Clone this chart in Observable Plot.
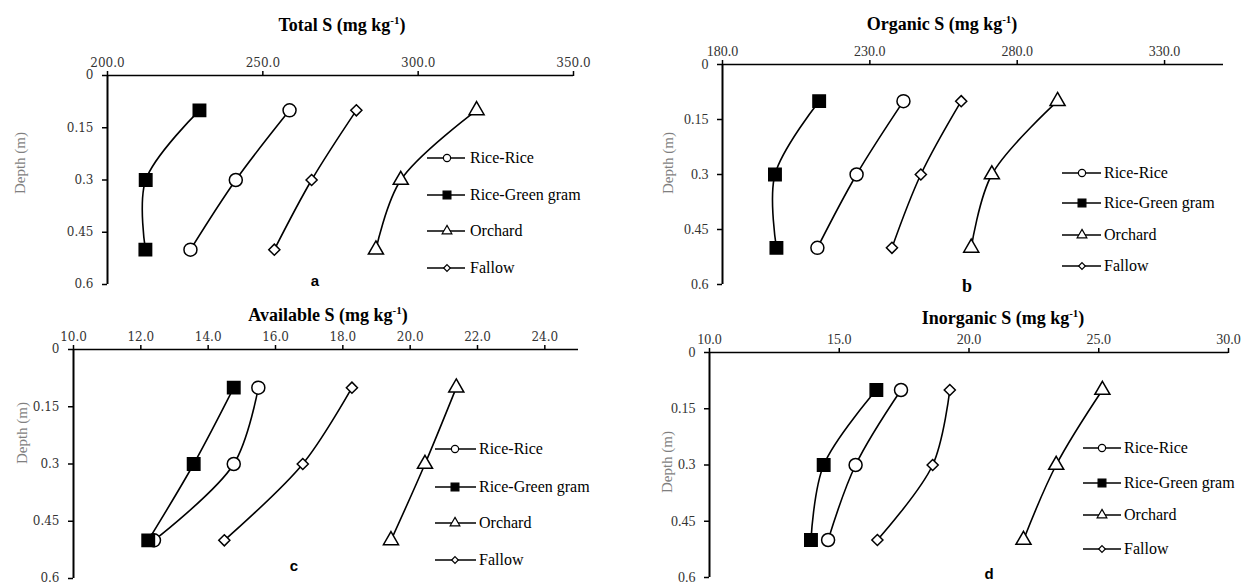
<!DOCTYPE html>
<html><head><meta charset="utf-8">
<script src="https://cdn.jsdelivr.net/npm/d3@7"></script>
<script src="https://cdn.jsdelivr.net/npm/@observablehq/plot@0.6"></script>
<style>
body{margin:0;background:#fff;}
#root{position:relative;width:1243px;height:586px;overflow:hidden;background:#fff;}
.wrap{position:absolute;}
.wrap svg{display:block;overflow:visible;}
.title{position:absolute;font-family:"Liberation Serif",serif;font-weight:bold;font-size:18px;transform:translate(-50%,-50%);white-space:nowrap;color:#000;}
.title sup{font-size:11px;}
.ylab{position:absolute;font-family:"Liberation Serif",serif;font-size:15px;color:#7f7f7f;transform:translate(-50%,-50%) rotate(-90deg);white-space:nowrap;}
.letter{position:absolute;font-family:"Liberation Sans",Arial,sans-serif;font-weight:bold;font-size:15px;transform:translate(-50%,-50%);}
.letter.serif{font-family:"Liberation Serif",serif;font-size:18px;}
.leg{position:absolute;font-family:"Liberation Serif",serif;font-size:16px;white-space:nowrap;transform:translateY(-50%);}
</style>
</head><body>
<div id="root"></div>
<script>
// ---- data ----
const seriesNames = ["Rice-Rice", "Rice-Green gram", "Orchard", "Fallow"];
const depth = [0.1, 0.3, 0.5];
const depthTicks = [0, 0.15, 0.3, 0.45, 0.6];

// values per series (order of seriesNames), at depths 0.1, 0.3, 0.5 m
const totalS = [
  [258.6, 241.3, 226.7],
  [229.6, 212.3, 212.2],
  [318.8, 294.4, 286.4],
  [280.1, 265.7, 253.7]
];
const organicS = [
  [241.4, 225.5, 212.2],
  [212.8, 197.8, 198.3],
  [293.7, 271.4, 264.4],
  [261.0, 247.3, 237.5]
];
const availableS = [
  [15.49, 14.76, 12.39],
  [14.76, 13.57, 12.22],
  [21.37, 20.44, 19.43],
  [18.27, 16.81, 14.48]
];
const inorganicS = [
  [17.38, 15.63, 14.57],
  [16.43, 14.40, 13.91],
  [25.14, 23.36, 22.10],
  [19.26, 18.60, 16.47]
];
const totalTicks = [200, 250, 300, 350];
const organicTicks = [180, 230, 280, 330];
const availableTicks = [10, 12, 14, 16, 18, 20, 22, 24];
const inorganicTicks = [10, 15, 20, 25, 30];

// ---- styles ----
const symStyle = [
  {symbol: "circle", fill: "white", r: 6.5, lr: 3.6},
  {symbol: "square", fill: "black", r: 7.0, lr: 4.4},
  {symbol: "triangle", fill: "white", r: 5.6, lr: 3.6},
  {symbol: "diamond2", fill: "white", r: 5.0, lr: 3.0}
];

const panels = [
  {values: totalS, ticks: totalTicks, domain: [200, 350], left: 0, top: 0, w: 620, h: 290,
   m: [75, 47, 6, 107], tickFont: '"DejaVu Serif",serif', tickSize: 12,
   title: "Total S (mg kg<sup>-1</sup>)", tx: 342, ty: 25, ylx: 20, yly: 163,
   letter: "a", lx: 315, ly: 280, serifLetter: false,
   leg: {x0: 427, x1: 465, mx: 447, tx: 470, ys: [158, 195, 231, 268]}},
  {values: organicS, ticks: organicTicks, domain: [180, 350], left: 620, top: 0, w: 623, h: 290,
   m: [64, 20, 6, 102], tickFont: '"Liberation Serif",serif', tickSize: 14,
   title: "Organic S (mg kg<sup>-1</sup>)", tx: 942, ty: 24, ylx: 668, yly: 163,
   letter: "b", lx: 967, ly: 286, serifLetter: true,
   leg: {x0: 1062, x1: 1101, mx: 1082, tx: 1104, ys: [173, 203, 235, 266]}},
  {values: availableS, ticks: availableTicks, domain: [10, 25], left: 0, top: 290, w: 620, h: 296,
   m: [59, 42, 8, 73], tickFont: '"DejaVu Serif",serif', tickSize: 12,
   title: "Available S (mg kg<sup>-1</sup>)", tx: 328, ty: 315, ylx: 22, yly: 433,
   letter: "c", lx: 294, ly: 565, serifLetter: false,
   leg: {x0: 435, x1: 476, mx: 455, tx: 479, ys: [449, 487, 523, 560]}},
  {values: inorganicS, ticks: inorganicTicks, domain: [10, 30], left: 620, top: 290, w: 623, h: 296,
   m: [62, 15, 9, 89], tickFont: '"Liberation Serif",serif', tickSize: 14,
   title: "Inorganic S (mg kg<sup>-1</sup>)", tx: 1003, ty: 318, ylx: 667, yly: 462,
   letter: "d", lx: 989, ly: 573, serifLetter: false,
   leg: {x0: 1083, x1: 1121, mx: 1102, tx: 1124, ys: [448, 483, 515, 549]}}
];

const root = document.getElementById("root");

function addDiv(cls, html, x, y) {
  const d = document.createElement("div");
  d.className = cls;
  d.innerHTML = html;
  d.style.left = x + "px";
  d.style.top = y + "px";
  root.appendChild(d);
  return d;
}

const symbolMap = {circle: d3.symbolCircle, square: d3.symbolSquare, triangle: d3.symbolTriangle, diamond2: d3.symbolDiamond2};

panels.forEach(p => {
  const rows = [];
  seriesNames.forEach((s, i) => p.values[i].forEach((v, j) => rows.push({series: s, idx: i, value: v, depth: depth[j]})));
  const marks = [
    Plot.axisX({anchor: "top", ticks: p.ticks, tickFormat: d3.format(".1f"), tickSize: 5, tickPadding: 4,
      fontFamily: p.tickFont, fontSize: p.tickSize, fill: "#333", stroke: "black", strokeWidth: 1.5, label: null}),
    Plot.axisY({anchor: "left", ticks: depthTicks, tickFormat: d => String(d), tickSize: 5, tickPadding: 9,
      fontFamily: p.tickFont, fontSize: p.tickSize, fill: "#333", stroke: "black", strokeWidth: 1.5, label: null}),
    Plot.ruleY([0], {stroke: "black", strokeWidth: 1.6}),
    Plot.ruleX([p.domain[0]], {stroke: "black", strokeWidth: 2}),
    Plot.line(rows, {x: "value", y: "depth", z: "series", curve: "catmull-rom", stroke: "black", strokeWidth: 1.6})
  ];
  symStyle.forEach((st, i) => {
    marks.push(Plot.dot(rows.filter(d => d.idx === i), {x: "value", y: "depth", symbol: () => st.symbol,
      r: st.r, fill: st.fill, stroke: "black", strokeWidth: 1.5}));
  });
  const chart = Plot.plot({
    width: p.w, height: p.h,
    marginTop: p.m[0], marginRight: p.m[1], marginBottom: p.m[2], marginLeft: p.m[3],
    x: {domain: p.domain},
    y: {domain: [0, 0.6], reverse: true},
    symbol: {type: "identity"},
    style: {background: "transparent", color: "black", overflow: "visible"},
    marks
  });
  const wrap = document.createElement("div");
  wrap.className = "wrap";
  wrap.style.left = p.left + "px";
  wrap.style.top = p.top + "px";
  wrap.appendChild(chart);
  root.appendChild(wrap);

  addDiv("title", p.title, p.tx, p.ty);
  addDiv("ylab", "Depth (m)", p.ylx, p.yly);
  addDiv("letter" + (p.serifLetter ? " serif" : ""), p.letter, p.lx, p.ly);

  // legend
  seriesNames.forEach((s, i) => {
    const y = p.leg.ys[i];
    const st = symStyle[i];
    const ns = "http://www.w3.org/2000/svg";
    const svg = document.createElementNS(ns, "svg");
    const w = p.leg.x1 - p.leg.x0;
    svg.setAttribute("width", w);
    svg.setAttribute("height", 14);
    svg.style.position = "absolute";
    svg.style.left = p.leg.x0 + "px";
    svg.style.top = (y - 7) + "px";
    const ln = document.createElementNS(ns, "line");
    ln.setAttribute("x1", 0); ln.setAttribute("x2", w);
    ln.setAttribute("y1", 7); ln.setAttribute("y2", 7);
    ln.setAttribute("stroke", "black"); ln.setAttribute("stroke-width", 1.6);
    svg.appendChild(ln);
    const path = document.createElementNS(ns, "path");
    path.setAttribute("d", d3.symbol(symbolMap[st.symbol], st.lr * st.lr * Math.PI)());
    path.setAttribute("transform", `translate(${p.leg.mx - p.leg.x0},7)`);
    path.setAttribute("fill", st.fill);
    path.setAttribute("stroke", "black");
    path.setAttribute("stroke-width", 1.2);
    svg.appendChild(path);
    root.appendChild(svg);
    addDiv("leg", s, p.leg.tx, y);
  });
});
</script>
</body></html>
